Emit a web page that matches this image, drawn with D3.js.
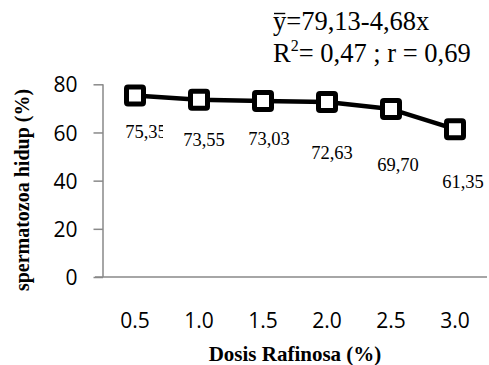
<!DOCTYPE html>
<html>
<head>
<meta charset="utf-8">
<script src="https://cdn.jsdelivr.net/npm/d3@7"></script>
<style>
  html, body { margin: 0; padding: 0; background: #fff; }
  svg { display: block; }
</style>
</head>
<body>
<svg id="chart" width="489" height="365"></svg>
<script>
// ---- data ----
const categories = ["0.5", "1.0", "1.5", "2.0", "2.5", "3.0"];
const values = [75.35, 73.55, 73.03, 72.63, 69.70, 61.35];
const valueLabels = ["75,35", "73,55", "73,03", "72,63", "69,70", "61,35"];
const yTicks = [0, 20, 40, 60, 80];
const equationText = "y=79,13-4,68x";       // first y carries a macron (ȳ)
const fitText = "= 0,47 ; r = 0,69";        // preceded by R²
const xTitle = "Dosis Rafinosa (%)";
const yTitle = "spermatozoa hidup (%)";

// ---- layout (label nudges as placed in the original) ----
const labelNudge = [[11, 42], [5, 46], [6, 44], [5, 57], [7, 62], [8, 59]];

(function () {
const svg = d3.select("#chart");
const mLeft = 103, mRight = 487, mTop = 84.3, mBottom = 277;
const axisColor = "#898989";
const serif = "'Liberation Serif', 'Times New Roman', serif";
const sans = "'Open Sans', 'Liberation Sans', sans-serif";

const x = d3.scaleBand().domain(categories).range([mLeft, mRight]);
const y = d3.scaleLinear().domain([0, 80]).range([mBottom, mTop]);

// y axis
const yAxis = svg.append("g")
  .attr("transform", `translate(${mLeft},0)`)
  .call(d3.axisLeft(y).tickValues(yTicks).tickSize(9.5).tickPadding(16).tickFormat(d3.format("d")));
yAxis.select(".domain").attr("stroke", axisColor).attr("stroke-width", 1.5).attr("d", `M0,${mTop}V${mBottom}`);
yAxis.selectAll(".tick line").attr("stroke", axisColor).attr("stroke-width", 1.5);
yAxis.selectAll(".tick text").attr("font-family", sans).attr("font-size", 21).attr("fill", "#000").attr("dy", "0.36em");

// x axis
const xAxis = svg.append("g")
  .attr("transform", `translate(0,${mBottom})`)
  .call(d3.axisBottom(x).tickSize(0).tickPadding(0));
xAxis.select(".domain").attr("stroke", axisColor).attr("stroke-width", 1.5).attr("d", `M${mLeft - 8},0H${mRight}`);
xAxis.selectAll(".tick text").attr("font-family", sans).attr("font-size", 21).attr("fill", "#000")
  .attr("dy", null).attr("y", 51);

// line
const cx = d => x(d) + x.bandwidth() / 2;
const pts = categories.map((c, i) => [cx(c), y(values[i])]);
svg.append("path")
  .attr("d", d3.line()(pts))
  .attr("fill", "none").attr("stroke", "#000").attr("stroke-width", 4.5).attr("stroke-linejoin", "round");

// markers
const ms = 17;
svg.selectAll("rect.marker").data(pts).join("rect")
  .attr("class", "marker")
  .attr("x", d => d[0] - ms / 2).attr("y", d => d[1] - ms / 2)
  .attr("width", ms).attr("height", ms).attr("rx", 1.5)
  .attr("fill", "#fff").attr("stroke", "#000").attr("stroke-width", 5);

// data labels
svg.append("defs").append("clipPath").attr("id", "clip0")
  .append("rect").attr("x", 0).attr("y", 0).attr("width", 163).attr("height", 365);
svg.selectAll("text.vlabel").data(valueLabels).join("text")
  .attr("class", "vlabel")
  .attr("x", (d, i) => pts[i][0] + labelNudge[i][0])
  .attr("y", (d, i) => pts[i][1] + labelNudge[i][1])
  .attr("text-anchor", "middle")
  .attr("font-family", serif).attr("font-size", 18.5).attr("fill", "#000")
  .attr("clip-path", (d, i) => i === 0 ? "url(#clip0)" : null)
  .text(d => d);

// equation
const eqX = 273;
const eq1 = svg.append("text").attr("x", eqX).attr("y", 30)
  .attr("font-family", serif).attr("font-size", 26.5).attr("fill", "#000")
  .text(equationText);
const yW = eq1.node().getSubStringLength(0, 1);
svg.append("line")
  .attr("x1", eqX + 1).attr("x2", eqX + yW - 1)
  .attr("y1", 13.5).attr("y2", 13.5)
  .attr("stroke", "#000").attr("stroke-width", 1.4);

const eq2 = svg.append("text").attr("x", eqX).attr("y", 62)
  .attr("font-family", serif).attr("font-size", 26.5).attr("fill", "#000");
eq2.append("tspan").text("R");
eq2.append("tspan").attr("font-size", 16).attr("dy", -11).text("2");
eq2.append("tspan").attr("dy", 11).text(fitText);

// axis titles
svg.append("text").attr("x", 295).attr("y", 361)
  .attr("text-anchor", "middle").attr("font-family", serif).attr("font-weight", "bold")
  .attr("font-size", 21).attr("fill", "#000")
  .text(xTitle);
svg.append("text").attr("transform", "translate(29,190) rotate(-90)")
  .attr("text-anchor", "middle").attr("font-family", serif).attr("font-weight", "bold")
  .attr("font-size", 20).attr("fill", "#000")
  .text(yTitle);
})();
</script>
</body>
</html>
